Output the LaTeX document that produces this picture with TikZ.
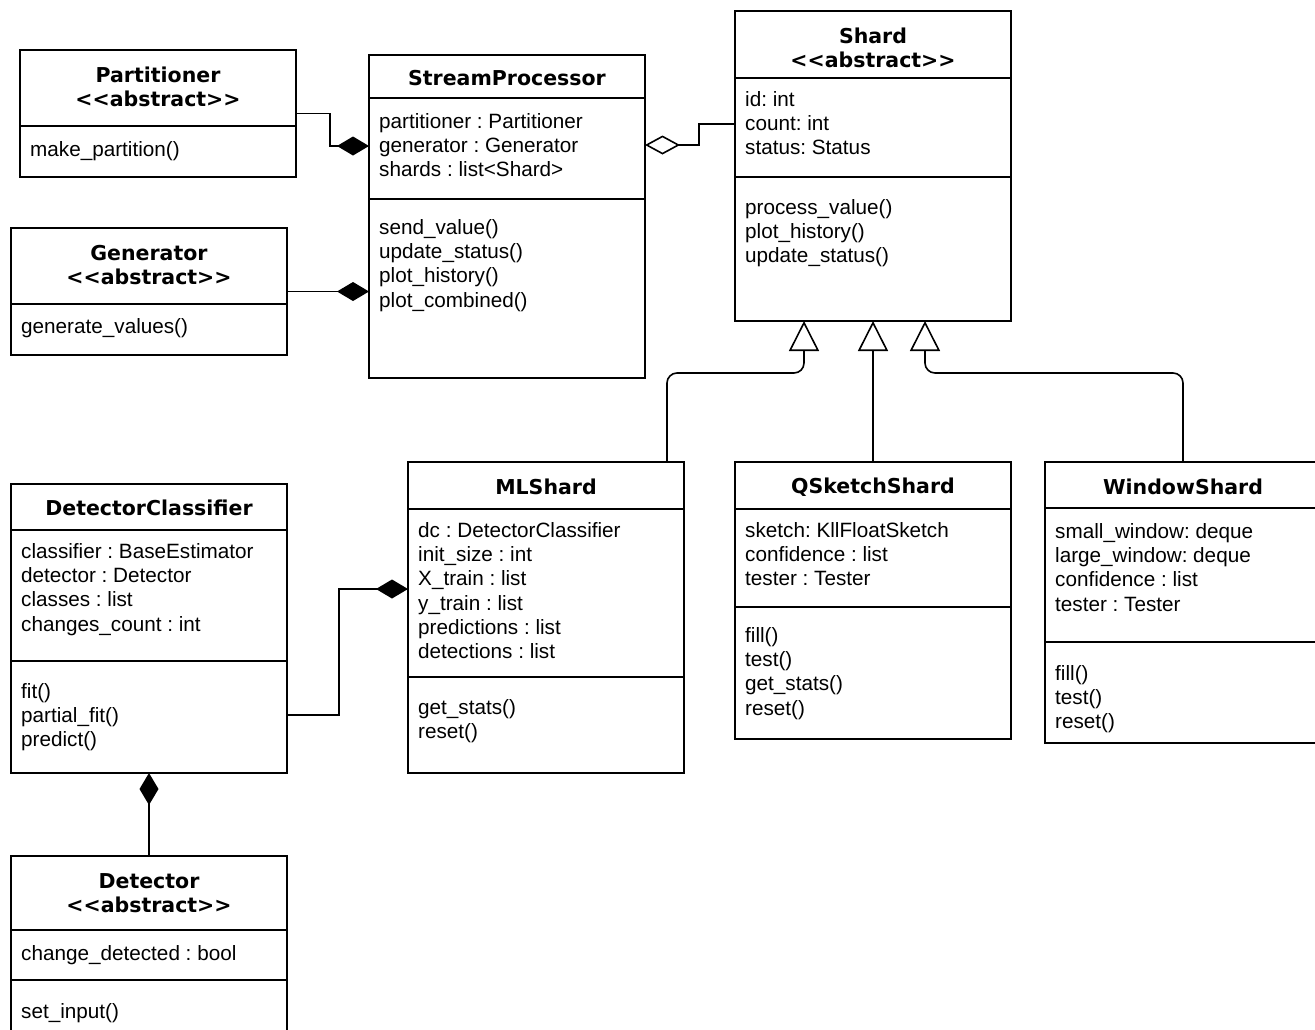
\documentclass[tikz,border=0pt]{standalone}
\usepackage{fontspec}
\setmainfont{Liberation Sans}
\newfontfamily\ttlfont{DejaVu Sans}
\usetikzlibrary{arrows.meta}
\frenchspacing
\newcommand\bodyfs{\frenchspacing\fontsize{20.7}{24.3}\selectfont}
\newcommand\ttlfs{\ttlfont\bfseries\fontsize{20.5}{24.3}\selectfont}
\newcommand\abs{<{}<abstract>{}>}
\tikzset{
  umlbox/.style={draw, line width=1.6pt, minimum width=276pt, anchor=north west, inner sep=0pt, outer sep=0pt},
  txt/.style={anchor=north west, inner sep=0pt, align=left, font=\bodyfs},
  ttl/.style={inner sep=0pt, align=center, font=\ttlfs},
  divline/.style={line width=1.6pt},
  compo/.style={line width=1.6pt, -{Diamond[length=32pt,width=19pt]}},
  aggr/.style={line width=1.6pt, -{Diamond[open,length=35pt,width=19pt,fill=white]}},
  inh/.style={line width=1.6pt, -{Triangle[open,length=30pt,width=30pt,fill=white]}},
}
\begin{document}
\begin{tikzpicture}[x=1pt,y=-1pt]
\useasboundingbox (0,0) rectangle (1315,1029);
% ---------- boxes ----------
\node[umlbox, minimum height=127pt] (part)  at (20,50)   {};
\node[umlbox, minimum height=323pt] (sp)    at (369,55)  {};
\node[umlbox, minimum height=127pt] (gen)   at (11,228)  {};
\node[umlbox, minimum height=310pt] (shard) at (735,11)  {};
\node[umlbox, minimum height=289pt] (dc)    at (11,484)  {};
\node[umlbox, minimum height=185pt] (det)   at (11,856)  {};
\node[umlbox, minimum height=311pt] (ml)    at (408,462) {};
\node[umlbox, minimum height=277pt] (qs)    at (735,462) {};
\node[umlbox, minimum height=281pt] (ws)    at (1045,462) {};
% ---------- dividers ----------
\draw[divline] (part.west |- 0,126) -- (part.east |- 0,126);
\draw[divline] (sp.west |- 0,98) -- (sp.east |- 0,98);
\draw[divline] (sp.west |- 0,199) -- (sp.east |- 0,199);
\draw[divline] (gen.west |- 0,304) -- (gen.east |- 0,304);
\draw[divline] (shard.west |- 0,78) -- (shard.east |- 0,78);
\draw[divline] (shard.west |- 0,177) -- (shard.east |- 0,177);
\draw[divline] (dc.west |- 0,530) -- (dc.east |- 0,530);
\draw[divline] (dc.west |- 0,661) -- (dc.east |- 0,661);
\draw[divline] (det.west |- 0,930) -- (det.east |- 0,930);
\draw[divline] (det.west |- 0,980) -- (det.east |- 0,980);
\draw[divline] (ml.west |- 0,509) -- (ml.east |- 0,509);
\draw[divline] (ml.west |- 0,677) -- (ml.east |- 0,677);
\draw[divline] (qs.west |- 0,509) -- (qs.east |- 0,509);
\draw[divline] (qs.west |- 0,607) -- (qs.east |- 0,607);
\draw[divline] (ws.west |- 0,508) -- (ws.east |- 0,508);
\draw[divline] (ws.west |- 0,642) -- (ws.east |- 0,642);
% ---------- titles ----------
\node[ttl] (part-t)  at (158,87)  {Partitioner\\\abs};
\node[ttl] (sp-t)    at (507,78)  {StreamProcessor};
\node[ttl] (gen-t)   at (149,265) {Generator\\\abs};
\node[ttl] (shard-t) at (873,48)  {Shard\\\abs};
\node[ttl] (dc-t)    at (149,508) {DetectorClassifier};
\node[ttl] (det-t)   at (149,893) {Detector\\\abs};
\node[ttl] (ml-t)    at (546,487) {MLShard};
\node[ttl] (qs-t)    at (873,487) {QSketchShard};
\node[ttl] (ws-t)    at (1183,487) {WindowShard};
% ---------- members (top = first baseline - 17) ----------
\node[txt] (part-m)  at (30,139)   {\strut make\_partition()};
\node[txt] (sp-a)    at (379,111)  {\strut partitioner : Partitioner\\generator : Generator\\shards : list<Shard>};
\node[txt] (sp-m)    at (379,217)  {\strut send\_value()\\update\_status()\\plot\_history()\\plot\_combined()};
\node[txt] (gen-m)   at (21,316)   {\strut generate\_values()};
\node[txt] (shard-a) at (745,89)   {\strut id: int\\count: int\\status: Status};
\node[txt] (shard-m) at (745,197)  {\strut process\_value()\\plot\_history()\\update\_status()};
\node[txt] (dc-a)    at (21,541)   {\strut classifier : BaseEstimator\\detector : Detector\\classes : list\\changes\_count : int};
\node[txt] (dc-m)    at (21,681)   {\strut fit()\\partial\_fit()\\predict()};
\node[txt] (det-a)   at (21,943)   {\strut change\_detected : bool};
\node[txt] (det-m)   at (21,1001)  {\strut set\_input()};
\node[txt] (ml-a)    at (418,520)  {\strut dc : DetectorClassifier\\init\_size : int\\X\_train : list\\y\_train : list\\predictions : list\\detections : list};
\node[txt] (ml-m)    at (418,697)  {\strut get\_stats()\\reset()};
\node[txt] (qs-a)    at (745,520)  {\strut sketch: KllFloatSketch\\confidence : list\\tester : Tester};
\node[txt] (qs-m)    at (745,625)  {\strut fill()\\test()\\get\_stats()\\reset()};
\node[txt] (ws-a)    at (1055,521) {\strut small\_window: deque\\large\_window: deque\\confidence : list\\tester : Tester};
\node[txt] (ws-m)    at (1055,663) {\strut fill()\\test()\\reset()};
% ---------- connectors ----------
\draw[compo] (part.east) -- ++(34,0) |- (sp.west |- 0,146);
\draw[compo] (gen.east) -- (sp.west |- gen.east);
\draw[aggr] (shard.west |- 0,124) -| (699,145) -- (sp.east |- 0,145);
\draw[inh, rounded corners=10pt] (ml.north -| 667,0) |- (804,373) -- (shard.south -| 804,0);
\draw[inh] (qs.north) -- (qs.north |- shard.south);
\draw[inh, rounded corners=10pt] (ws.north -| 1183,0) |- (925,373) -- (shard.south -| 925,0);
\draw[compo] (dc.east |- 0,715) -| (339,589) -- (ml.west |- 0,589);
\draw[compo] (det.north) -- (dc.south);
\end{tikzpicture}
\end{document}
